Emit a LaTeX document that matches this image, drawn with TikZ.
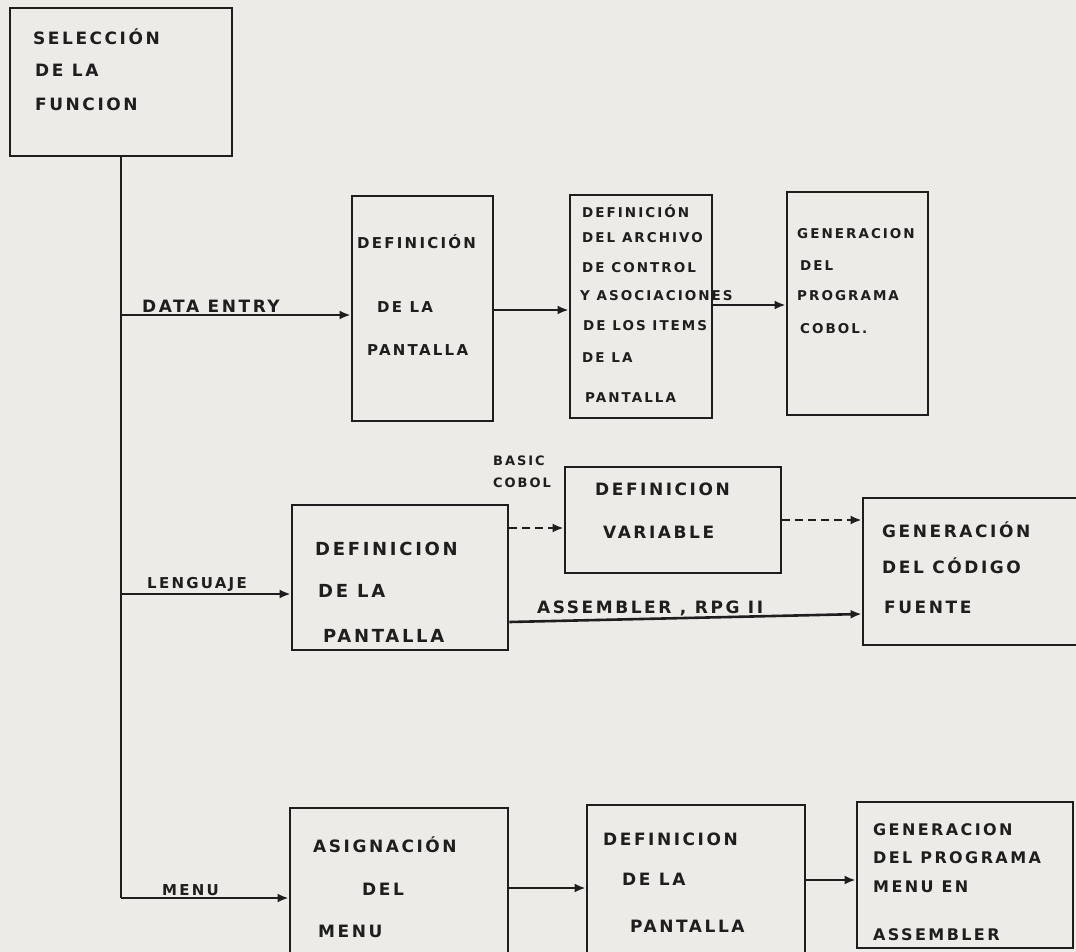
\documentclass[tikz,border=0pt]{standalone}
\usepackage{fontspec}
\setmainfont{DejaVu Sans}
\newfontfamily\hand[LetterSpace=15]{DejaVu Sans Bold}
\usetikzlibrary{arrows.meta}
\definecolor{ink}{RGB}{30,30,30}
\definecolor{paper}{RGB}{237,235,231}
\newcommand{\hsz}[1]{\hand\fontsize{#1}{#1}\selectfont}
\begin{document}
\begin{tikzpicture}[x=1pt,y=-1pt,
  box/.style={draw=ink,line width=2.8pt,inner sep=0pt},
  t/.style={anchor=base west,inner sep=0pt,text=ink},
  arr/.style={draw=ink,line width=2.6pt,-{Latex[length=11pt,width=9pt]}},
  dsh/.style={arr,dash pattern=on 8pt off 5pt}]
\useasboundingbox (0,0) rectangle (1076,952);
\clip (0,0) rectangle (1076,952);
\fill[paper] (0,0) rectangle (1076,952);

% boxes
\node[box,minimum width=222pt,minimum height=148pt] (A) at (121,82) {};
\node[box,minimum width=141pt,minimum height=225pt] (B) at (422.5,308.5) {};
\node[box,minimum width=142pt,minimum height=223pt] (C) at (641,306.5) {};
\node[box,minimum width=141pt,minimum height=223pt] (D) at (857.5,303.5) {};
\node[box,minimum width=216pt,minimum height=145pt] (E) at (400,577.5) {};
\node[box,minimum width=216pt,minimum height=106pt] (F) at (673,520) {};
\node[box,minimum width=227pt,minimum height=147pt] (G) at (976.5,571.5) {};
\node[box,minimum width=218pt,minimum height=154pt] (H) at (399,885) {};
\node[box,minimum width=218pt,minimum height=157pt] (I) at (696,883.5) {};
\node[box,minimum width=216pt,minimum height=146pt] (J) at (965,875) {};

% box texts
\node[t,font=\hsz{17}] (a1) at (33,45) {SELECCIÓN};
\node[t,font=\hsz{17}] (a2) at (35,77) {DE LA};
\node[t,font=\hsz{17}] (a3) at (35,111) {FUNCION};

\node[t,font=\hsz{15}] (b1) at (357,248) {DEFINICIÓN};
\node[t,font=\hsz{15}] (b2) at (377,312) {DE LA};
\node[t,font=\hsz{15}] (b3) at (367,355) {PANTALLA};

\node[t,font=\hsz{13.5}] (c1) at (582,218) {DEFINICIÓN};
\node[t,font=\hsz{13.5}] (c2) at (582,243) {DEL ARCHIVO};
\node[t,font=\hsz{13.5}] (c3) at (582,272) {DE CONTROL};
\node[t,font=\hsz{13.5}] (c4) at (580,300) {Y ASOCIACIONES};
\node[t,font=\hsz{13.5}] (c5) at (583,330) {DE LOS ITEMS};
\node[t,font=\hsz{13.5}] (c6) at (582,362) {DE LA};
\node[t,font=\hsz{13.5}] (c7) at (585,402) {PANTALLA};

\node[t,font=\hsz{13.5}] (d1) at (797,238) {GENERACION};
\node[t,font=\hsz{13.5}] (d2) at (800,270) {DEL};
\node[t,font=\hsz{13.5}] (d3) at (797,300) {PROGRAMA};
\node[t,font=\hsz{13.5}] (d4) at (800,333) {COBOL.};

\node[t,font=\hsz{18}] (e1) at (315,555) {DEFINICION};
\node[t,font=\hsz{18}] (e2) at (318,597) {DE LA};
\node[t,font=\hsz{18}] (e3) at (323,642) {PANTALLA};

\node[t,font=\hsz{17}] (f1) at (595,495) {DEFINICION};
\node[t,font=\hsz{17}] (f2) at (603,538) {VARIABLE};

\node[t,font=\hsz{17}] (g1) at (882,537) {GENERACIÓN};
\node[t,font=\hsz{17}] (g2) at (882,573) {DEL CÓDIGO};
\node[t,font=\hsz{17}] (g3) at (884,613) {FUENTE};

\node[t,font=\hsz{17}] (h1) at (313,852) {ASIGNACIÓN};
\node[t,font=\hsz{17}] (h2) at (362,895) {DEL};
\node[t,font=\hsz{17}] (h3) at (318,937) {MENU};

\node[t,font=\hsz{17}] (i1) at (603,845) {DEFINICION};
\node[t,font=\hsz{17}] (i2) at (622,885) {DE LA};
\node[t,font=\hsz{17}] (i3) at (630,932) {PANTALLA};

\node[t,font=\hsz{16}] (j1) at (873,835) {GENERACION};
\node[t,font=\hsz{16}] (j2) at (873,863) {DEL PROGRAMA};
\node[t,font=\hsz{16}] (j3) at (873,892) {MENU EN};
\node[t,font=\hsz{16}] (j4) at (873,940) {ASSEMBLER};

% connector labels
\node[t,font=\hsz{17}] (lde) at (142,312) {DATA ENTRY};
\node[t,font=\hsz{15}] (llg) at (147,588) {LENGUAJE};
\node[t,font=\hsz{15}] (lmn) at (162,895) {MENU};
\node[t,font=\hsz{13}] (lba) at (493,465) {BASIC};
\node[t,font=\hsz{13}] (lco) at (493,487) {COBOL};
\node[t,font=\hsz{17}] (las) at (537,613) {ASSEMBLER , RPG II};

% connectors
\coordinate (yde) at (0,315);
\coordinate (ylg) at (0,594);
\coordinate (ymn) at (0,898);
\coordinate (ybc) at (0,310);
\coordinate (ycd) at (0,305);
\coordinate (yef) at (0,528);
\coordinate (yfg) at (0,520);
\coordinate (yas1) at (0,622);
\coordinate (yas2) at (0,614);
\coordinate (yhi) at (0,888);
\coordinate (yij) at (0,880);

\draw[draw=ink,line width=2.6pt] (A.south) -- (A.south |- ymn);
\draw[arr] (A.south |- ymn) -- (H.west |- ymn);
\draw[arr] (A.south |- yde) -- (B.west |- yde);
\draw[arr] (A.south |- ylg) -- (E.west |- ylg);
\draw[arr] (B.east |- ybc) -- (C.west |- ybc);
\draw[arr] (C.east |- ycd) -- (D.west |- ycd);
\draw[dsh] (E.east |- yef) -- (F.west |- yef);
\draw[dsh] (F.east |- yfg) -- (G.west |- yfg);
\draw[arr] (E.east |- yas1) -- (G.west |- yas2);
\draw[arr] (H.east |- yhi) -- (I.west |- yhi);
\draw[arr] (I.east |- yij) -- (J.west |- yij);
\end{tikzpicture}
\end{document}
